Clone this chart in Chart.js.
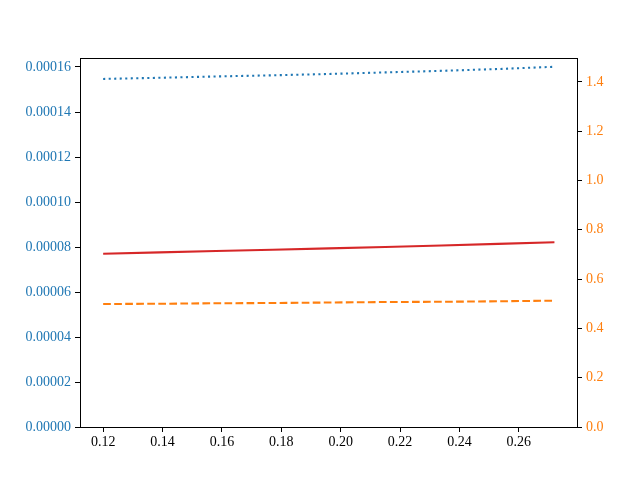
<!DOCTYPE html>
<html>
<head>
<meta charset="utf-8">
<script src="https://cdn.jsdelivr.net/npm/chart.js@4"></script>
<style>
  html, body { margin: 0; padding: 0; background: #fff; }
  #wrap { width: 640px; height: 480px; }
</style>
</head>
<body>
<div id="wrap"><canvas id="chart" width="640" height="480"></canvas></div>
<script>
const xValues = [0.12, 0.139, 0.158, 0.177, 0.196, 0.215, 0.234, 0.253, 0.272];
const dottedBlue = [1.547e-4, 1.552e-4, 1.558e-4, 1.563e-4, 1.569e-4, 1.576e-4, 1.583e-4, 1.591e-4, 1.601e-4];
const solidRed = [0.770e-4, 0.776e-4, 0.782e-4, 0.788e-4, 0.794e-4, 0.800e-4, 0.807e-4, 0.814e-4, 0.821e-4];
const dashedOrange = [0.499, 0.500, 0.502, 0.503, 0.505, 0.507, 0.508, 0.510, 0.5125];

const xTicks = [0.12, 0.14, 0.16, 0.18, 0.20, 0.22, 0.24, 0.26];
const leftTicks = [0, 0.00002, 0.00004, 0.00006, 0.00008, 0.0001, 0.00012, 0.00014, 0.00016];
const rightTicks = [0, 0.2, 0.4, 0.6, 0.8, 1.0, 1.2, 1.4];

const BLUE = '#1f77b4';
const ORANGE = '#ff7f0e';
const RED = '#d62728';
const LW = 2.08;

const toPoints = ys => ys.map((y, i) => ({ x: xValues[i], y }));
const fixTicks = list => scale => { scale.ticks = list.map(v => ({ value: v })); };

const frame = {
    id: 'frame',
    afterDraw(chart) {
        const { ctx, chartArea: a } = chart;
        ctx.save();
        ctx.strokeStyle = '#000';
        ctx.lineWidth = 1;
        ctx.strokeRect(Math.round(a.left) + 0.5, Math.round(a.top) + 0.5,
            Math.round(a.right - a.left), Math.round(a.bottom - a.top));
        ctx.restore();
    }
};

const font = { family: '"Liberation Serif", "DejaVu Serif", serif', size: 14 };
const tickGrid = { drawOnChartArea: false, tickLength: 5, tickColor: '#000', tickWidth: 1 };

new Chart(document.getElementById('chart'), {
    type: 'scatter',
    data: {
        datasets: [
            { data: toPoints(dottedBlue), borderColor: BLUE, borderWidth: LW, borderDash: [2.08, 3.44], yAxisID: 'y' },
            { data: toPoints(solidRed), borderColor: RED, borderWidth: LW, yAxisID: 'y' },
            { data: toPoints(dashedOrange), borderColor: ORANGE, borderWidth: LW, borderDash: [7.7, 3.33], yAxisID: 'y2' }
        ].map(d => ({ ...d, showLine: true, pointRadius: 0, tension: 0, fill: false }))
    },
    options: {
        responsive: false,
        animation: false,
        layout: { padding: { top: 58, left: 0, right: 0, bottom: 0 } },
        plugins: { legend: { display: false }, tooltip: { enabled: false } },
        scales: {
            x: {
                type: 'linear',
                min: 0.1122,
                max: 0.2796,
                afterBuildTicks: fixTicks(xTicks),
                afterFit: s => { s.height = 53; },
                grid: tickGrid,
                border: { display: false },
                ticks: { color: '#000', font, padding: 2, maxRotation: 0, callback: v => v.toFixed(2) }
            },
            y: {
                type: 'linear',
                position: 'left',
                min: 0,
                max: 0.000164,
                afterBuildTicks: fixTicks(leftTicks),
                afterFit: s => { s.width = 80; },
                grid: tickGrid,
                border: { display: false },
                ticks: { color: BLUE, font, padding: 4, callback: v => v.toFixed(5) }
            },
            y2: {
                type: 'linear',
                position: 'right',
                min: 0,
                max: 1.497,
                afterBuildTicks: fixTicks(rightTicks),
                afterFit: s => { s.width = 63; },
                grid: tickGrid,
                border: { display: false },
                ticks: { color: ORANGE, font, padding: 4, callback: v => v.toFixed(1) }
            }
        }
    },
    plugins: [frame]
});
</script>
</body>
</html>
